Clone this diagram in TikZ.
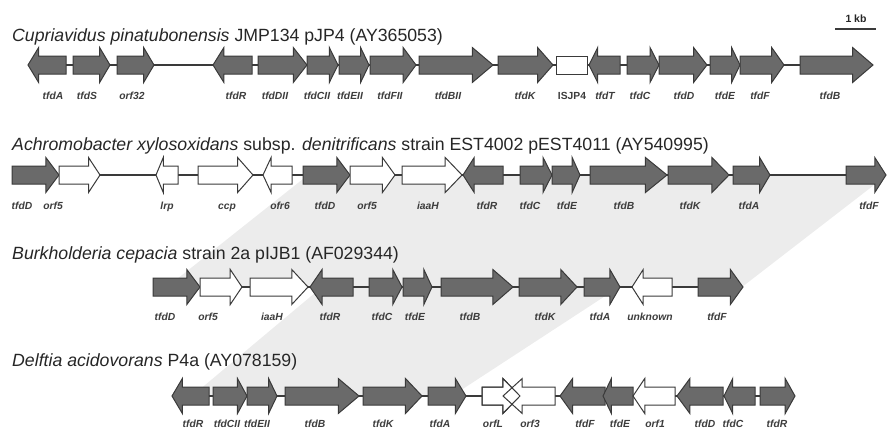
\documentclass[tikz,border=0pt]{standalone}
\usepackage{fontspec}
\setmainfont{Liberation Sans}
\definecolor{genefill}{HTML}{6A6A6A}
\definecolor{geneline}{HTML}{3A3A3A}
\definecolor{bandcol}{HTML}{ECECEC}
\definecolor{labcol}{HTML}{3C3C3C}
\definecolor{titcol}{HTML}{262626}
\tikzset{
  gg/.style={fill=genefill, draw=geneline, line width=1pt, line join=miter},
  wg/.style={fill=white, draw=geneline, line width=1pt, line join=miter},
  bb/.style={draw=geneline, line width=1.2pt},
  lab/.style={font=\fontsize{10.3}{12}\selectfont\bfseries\itshape, text=labcol, anchor=base, inner sep=0pt},
  tit/.style={font=\fontsize{17.7}{20}\selectfont, text=titcol, anchor=base west, inner sep=0pt},
}
% rightward gene: [head fraction]{x1}{x2}{style}
\newcommand\gR[4][0.28]{\pgfmathsetmacro\gk{#3-#1*(#3-#2)}%
  \path[#4] (#2,\ry-9) -- (\gk,\ry-9) -- (\gk,\ry-17.5) -- (#3,\ry) -- (\gk,\ry+17.5) -- (\gk,\ry+9) -- (#2,\ry+9) -- cycle;}
% leftward gene
\newcommand\gL[4][0.28]{\pgfmathsetmacro\gk{#2+#1*(#3-#2)}%
  \path[#4] (#3,\ry-9) -- (\gk,\ry-9) -- (\gk,\ry-17.5) -- (#2,\ry) -- (\gk,\ry+17.5) -- (\gk,\ry+9) -- (#3,\ry+9) -- cycle;}
\begin{document}
\begin{tikzpicture}[x=1pt, y=-1pt]
\useasboundingbox (0,0) rectangle (887,429);
% synteny bands
\fill[bandcol] (308,175) -- (887,175) -- (742,287) -- (167,287) -- cycle;
\fill[bandcol] (322,287) -- (619,287) -- (452,396) -- (192,396) -- cycle;

% scale bar
\coordinate (sb1) at (835,29);
\coordinate (sb2) at (876,29);
\draw[geneline, line width=1.5pt] (sb1) -- (sb2);
\node[font=\fontsize{10.5}{12}\selectfont\bfseries, text=titcol, anchor=base, inner sep=0pt] (kb) at (856,22) {1 kb};

% ---------------- Row 1
\node[tit] (t1) at (12,41) {\textit{Cupriavidus pinatubonensis} JMP134 pJP4 (AY365053)};
\def\ry{65}
\coordinate (r1a) at (28,65); \coordinate (r1b) at (873,65);
\draw[bb] (r1a) -- (r1b);
\gL{28}{66}{gg}
\gR{73}{110}{gg}
\gR{117}{154}{gg}
\gL{213}{252}{gg}
\gR{258}{307}{gg}
\gR{307}{338}{gg}
\gR{339}{369}{gg}
\gR{370}{416}{gg}
\gR{419}{493}{gg}
\gR{498}{553}{gg}
\path[wg] (556,56) rectangle (587,74);
\gL{589}{620}{gg}
\gR{627}{659}{gg}
\gR{659}{707}{gg}
\gR{710}{740}{gg}
\gR{740}{784}{gg}
\gR{800}{873}{gg}
\node[lab] (a1) at (53,99) {tfdA};
\node[lab] (a2) at (87,99) {tfdS};
\node[lab] (a3) at (132,99) {orf32};
\node[lab] (a4) at (236,99) {tfdR};
\node[lab] (a5) at (275,99) {tfdDII};
\node[lab] (a6) at (317,99) {tfdCII};
\node[lab] (a7) at (350,99) {tfdEII};
\node[lab] (a8) at (390,99) {tfdFII};
\node[lab] (a9) at (448,99) {tfdBII};
\node[lab] (a10) at (525,99) {tfdK};
\node[lab, font=\fontsize{10.3}{12}\selectfont\bfseries] (a11) at (572,99) {ISJP4};
\node[lab] (a12) at (605,99) {tfdT};
\node[lab] (a13) at (640,99) {tfdC};
\node[lab] (a14) at (684,99) {tfdD};
\node[lab] (a15) at (725,99) {tfdE};
\node[lab] (a16) at (760,99) {tfdF};
\node[lab] (a17) at (830,99) {tfdB};

% ---------------- Row 2
\node[tit] (t2) at (12,150) {\textit{Achromobacter xylosoxidans} subsp. \textit{denitrificans} strain EST4002 pEST4011 (AY540995)};
\def\ry{175}
\coordinate (r2a) at (12,175); \coordinate (r2b) at (886,175);
\draw[bb] (r2a) -- (r2b);
\gR{12}{59}{gg}
\gR{59}{100}{wg}
\gL[0.33]{156}{178}{wg}
\gR{198}{253}{wg}
\gL{263}{292}{wg}
\gR{303}{350}{gg}
\gR{350}{395}{wg}
\gR{402}{462}{wg}
\gL{463}{503}{gg}
\gR{520}{552}{gg}
\gR{552}{580}{gg}
\gR{590}{667}{gg}
\gR{668}{729}{gg}
\gR{733}{770}{gg}
\gR{846}{886}{gg}
\node[lab] (b1) at (22,209) {tfdD};
\node[lab] (b2) at (53,209) {orf5};
\node[lab] (b3) at (167,209) {lrp};
\node[lab] (b4) at (227,209) {ccp};
\node[lab] (b5) at (280,209) {ofr6};
\node[lab] (b6) at (325,209) {tfdD};
\node[lab] (b7) at (367,209) {orf5};
\node[lab] (b8) at (428,209) {iaaH};
\node[lab] (b9) at (487,209) {tfdR};
\node[lab] (b10) at (530,209) {tfdC};
\node[lab] (b11) at (567,209) {tfdE};
\node[lab] (b12) at (624,209) {tfdB};
\node[lab] (b13) at (690,209) {tfdK};
\node[lab] (b14) at (749,209) {tfdA};
\node[lab] (b15) at (869,209) {tfdF};

% ---------------- Row 3
\node[tit] (t3) at (12,259) {\textit{Burkholderia cepacia} strain 2a pIJB1 (AF029344)};
\def\ry{287}
\coordinate (r3a) at (153,287); \coordinate (r3b) at (743,287);
\draw[bb] (r3a) -- (r3b);
\gR{153}{200}{gg}
\gR{200}{242}{wg}
\gR{250}{308}{wg}
\gL{310}{353}{gg}
\gR{369}{402}{gg}
\gR{403}{432}{gg}
\gR{441}{513}{gg}
\gR{519}{577}{gg}
\gR{584}{620}{gg}
\gL{632}{672}{wg}
\gR{698}{743}{gg}
\node[lab] (c1) at (165,320) {tfdD};
\node[lab] (c2) at (208,320) {orf5};
\node[lab] (c3) at (272,320) {iaaH};
\node[lab] (c4) at (330,320) {tfdR};
\node[lab] (c5) at (382,320) {tfdC};
\node[lab] (c6) at (415,320) {tfdE};
\node[lab] (c7) at (470,320) {tfdB};
\node[lab] (c8) at (545,320) {tfdK};
\node[lab] (c9) at (600,320) {tfdA};
\node[lab] (c10) at (650,320) {unknown};
\node[lab] (c11) at (717,320) {tfdF};

% ---------------- Row 4
\node[tit] (t4) at (12,366) {\textit{Delftia acidovorans} P4a (AY078159)};
\def\ry{396}
\coordinate (r4a) at (172,396); \coordinate (r4b) at (795,396);
\draw[bb] (r4a) -- (r4b);
\gL{172}{209}{gg}
\gR{213}{247}{gg}
\gR{247}{277}{gg}
\gR{285}{359}{gg}
\gR{363}{422}{gg}
\gR{428}{466}{gg}
\gR[0.45]{482}{520}{wg}
\gL[0.37]{503}{555}{wg}
\gR[0.45]{482}{520}{wg, fill=none}
\gL{560}{605}{gg}
\gL{603}{633}{gg}
\gL{633}{675}{wg}
\gL{677}{723}{gg}
\gL{724}{755}{gg}
\gR{760}{795}{gg}
\node[lab] (d1) at (193,427) {tfdR};
\node[lab] (d2) at (227,427) {tfdCII};
\node[lab] (d3) at (257,427) {tfdEII};
\node[lab] (d4) at (315,427) {tfdB};
\node[lab] (d5) at (383,427) {tfdK};
\node[lab] (d6) at (440,427) {tfdA};
\node[lab] (d7) at (493,427) {orfL};
\node[lab] (d8) at (530,427) {orf3};
\node[lab] (d9) at (585,427) {tfdF};
\node[lab] (d10) at (620,427) {tfdE};
\node[lab] (d11) at (655,427) {orf1};
\node[lab] (d12) at (705,427) {tfdD};
\node[lab] (d13) at (733,427) {tfdC};
\node[lab] (d14) at (777,427) {tfdR};
\end{tikzpicture}
\end{document}
